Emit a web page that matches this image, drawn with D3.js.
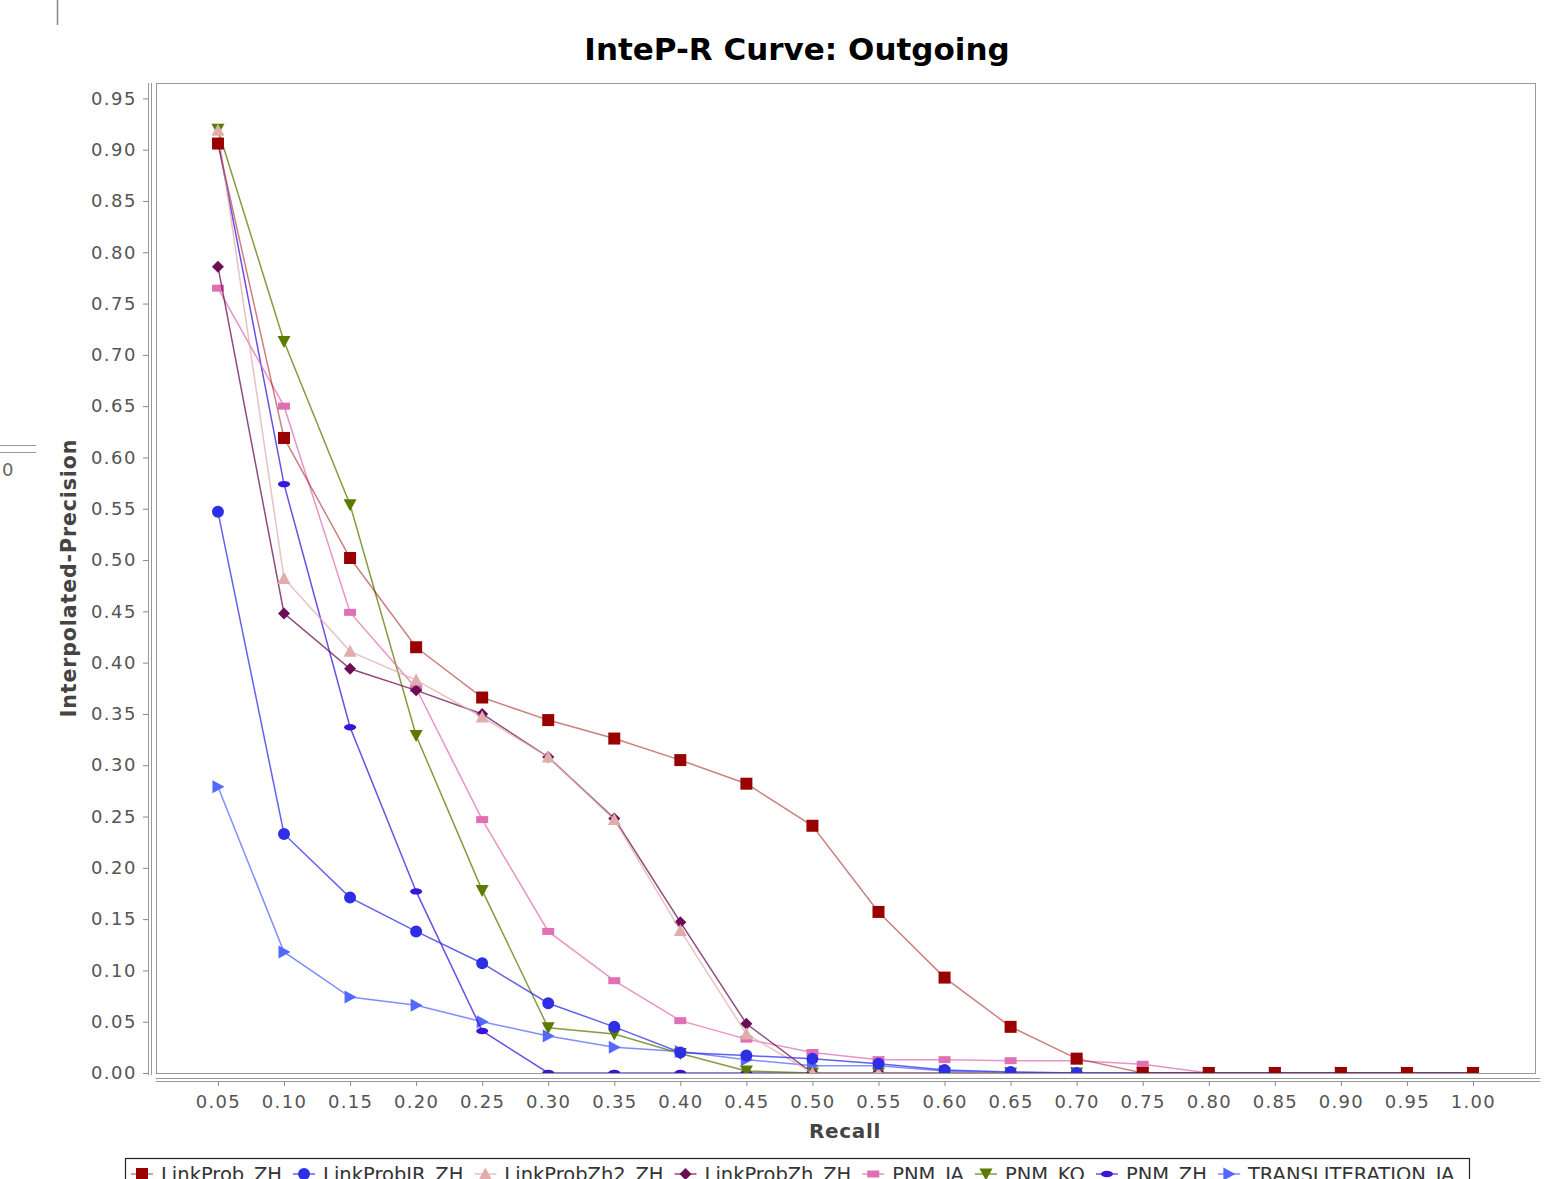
<!DOCTYPE html>
<html><head><meta charset="utf-8">
<script src="https://cdn.jsdelivr.net/npm/d3@7"></script>
<style>
html,body{margin:0;padding:0;background:#fff;}
svg{display:block;}
text{font-family:"DejaVu Sans",sans-serif;}
</style></head>
<body>
<script>
// ---- data ----
const recall = [0.05,0.10,0.15,0.20,0.25,0.30,0.35,0.40,0.45,0.50,0.55,0.60,0.65,0.70,0.75,0.80,0.85,0.90,0.95,1.00];
const yTicks = [0.00,0.05,0.10,0.15,0.20,0.25,0.30,0.35,0.40,0.45,0.50,0.55,0.60,0.65,0.70,0.75,0.80,0.85,0.90,0.95];
const seriesNames = ["LinkProb_ZH","LinkProbIR_ZH","LinkProbZh2_ZH","LinkProbZh_ZH","PNM_JA","PNM_KO","PNM_ZH","TRANSLITERATION_JA"];
const linkProbZH      = [0.906,0.619,0.502,0.415,0.366,0.344,0.326,0.305,0.282,0.241,0.157,0.093,0.045,0.014,0,0,0,0,0,0];
const linkProbIRZH    = [0.547,0.233,0.171,0.138,0.107,0.068,0.045,0.020,0.017,0.014,0.009,0.003,0.001,0,0,0,0,0,0,0];
const linkProbZh2ZH   = [0.919,0.482,0.411,0.383,0.347,0.308,0.247,0.139,0.038,0,0,0,0,0,0,0,0,0,0,0];
const linkProbZhZH    = [0.786,0.448,0.394,0.373,0.350,0.308,0.248,0.147,0.048,0,0,0,0,0,0,0,0,0,0,0];
const pnmJA           = [0.765,0.650,0.449,0.375,0.247,0.138,0.090,0.051,0.033,0.020,0.013,0.013,0.012,0.012,0.0085,0,0,0,0,0];
const pnmKO           = [0.920,0.713,0.554,0.329,0.178,0.044,0.038,0.019,0.002,0,0,0,0,0,0,0,0,0,0,0];
const pnmZH           = [0.908,0.574,0.337,0.177,0.041,0,0,0,0,0,0,0,0,0,0,0,0,0,0,0];
const translitJA      = [0.279,0.118,0.074,0.066,0.050,0.036,0.025,0.021,0.013,0.007,0.007,0.002,0,0,0,0,0,0,0,0];
const seriesValues = [linkProbZH,linkProbIRZH,linkProbZh2ZH,linkProbZhZH,pnmJA,pnmKO,pnmZH,translitJA];
const seriesColors = ["#990000","#2e2ee6","#e0acac","#6a0f55","#e070b4","#5c7a00","#3a14d8","#5468ff"];
const seriesShapes = ["square","circle","triUp","diamond","rect","triDown","ellipse","triRight"];

// ---- layout ----
const W=1560,H=1179;
const L=156,R=1536,T=83,B=1073;
const svg=d3.select("body").append("svg").attr("width",W).attr("height",H);

const x=d3.scaleLinear().domain([0.0031,1.0477]).range([L,R]);
const y=d3.scaleLinear().domain([0,0.965]).range([B,T]);

// stray artifacts at the edges
svg.append("line").attr("x1",57.5).attr("x2",57.5).attr("y1",0).attr("y2",25).attr("stroke","#888").attr("stroke-width",1.5);
svg.append("line").attr("x1",0).attr("x2",36).attr("y1",445.5).attr("y2",445.5).attr("stroke","#999");
svg.append("line").attr("x1",0).attr("x2",36).attr("y1",452.5).attr("y2",452.5).attr("stroke","#999");
svg.append("text").attr("x",2).attr("y",476).attr("font-size",18).attr("fill","#666").text("0");

// title
svg.append("text").attr("x",797).attr("y",60).attr("text-anchor","middle")
  .attr("font-size",31).attr("font-weight","bold").attr("fill","#000").text("InteP-R Curve: Outgoing");

// plot border
svg.append("rect").attr("x",L+0.5).attr("y",T+0.5).attr("width",R-L-1).attr("height",B-T)
  .attr("fill","#fff").attr("stroke","#999");

// y axis
const yAxisG=svg.append("g").attr("transform","translate(148,0)");
yAxisG.call(d3.axisLeft(y).tickValues(yTicks).tickFormat(d3.format(".2f")).tickSize(5).tickPadding(6));
yAxisG.select(".domain").remove();
yAxisG.selectAll(".tick line").attr("stroke","#888");
yAxisG.selectAll(".tick text").attr("font-size",18).attr("fill","#555").attr("font-family","DejaVu Sans")
  .attr("letter-spacing","1.5px");
svg.append("line").attr("x1",148.5).attr("x2",148.5).attr("y1",T).attr("y2",B+2).attr("stroke","#999");
svg.append("line").attr("x1",151.5).attr("x2",151.5).attr("y1",T).attr("y2",B+2).attr("stroke","#999");

// x axis
const xAxisG=svg.append("g").attr("transform","translate(0,1081)");
xAxisG.call(d3.axisBottom(x).tickValues(recall).tickFormat(d3.format(".2f")).tickSize(5).tickPadding(9));
xAxisG.select(".domain").remove();
xAxisG.selectAll(".tick line").attr("stroke","#888");
xAxisG.selectAll(".tick text").attr("font-size",18).attr("fill","#555").attr("font-family","DejaVu Sans")
  .attr("letter-spacing","1.3px");
svg.append("line").attr("x1",L).attr("x2",R+4).attr("y1",1078.5).attr("y2",1078.5).attr("stroke","#999");
svg.append("line").attr("x1",L).attr("x2",R+4).attr("y1",1081.5).attr("y2",1081.5).attr("stroke","#999");

// axis labels
svg.append("text").attr("x",845).attr("y",1138).attr("text-anchor","middle").attr("letter-spacing","0.7px")
  .attr("font-size",20).attr("font-weight","bold").attr("fill","#444").text("Recall");
svg.append("text").attr("transform","translate(76,578) rotate(-90)").attr("text-anchor","middle")
  .attr("letter-spacing","0.9px")
  .attr("font-size",20.5).attr("font-weight","bold").attr("fill","#444").text("Interpolated-Precision");

// markers
function shapePath(s){
  switch(s){
    case "square": return "M-6,-6H6V6H-6Z";
    case "rect": return "M-6,-3.5H6V3.5H-6Z";
    case "circle": return d3.symbol(d3.symbolCircle,113)();
    case "ellipse": return "M-6,0A6,3.2 0 1,0 6,0A6,3.2 0 1,0 -6,0Z";
    case "triUp": return "M0,-6.5L6.5,5.5H-6.5Z";
    case "triDown": return "M0,6.5L6.5,-5.5H-6.5Z";
    case "triRight": return "M6.5,0L-5.5,-6.5V6.5Z";
    case "diamond": return "M0,-6L6,0L0,6L-6,0Z";
  }
}

const defs=svg.append("defs");
defs.append("clipPath").attr("id","clip").append("rect").attr("x",L).attr("y",T-20).attr("width",R-L).attr("height",B-T+20);

const plot=svg.append("g").attr("clip-path","url(#clip)");
const line=d3.line().x((d,i)=>x(recall[i])).y(d=>y(d));
const order=d3.range(seriesNames.length).reverse();
order.forEach(si=>{
  const g=plot.append("g");
  g.append("path").datum(seriesValues[si]).attr("d",line).attr("fill","none")
    .attr("stroke",seriesColors[si]).attr("stroke-width",1.5).attr("stroke-opacity",si===0?0.5:0.75);
  g.selectAll("path.m").data(seriesValues[si]).join("path").attr("class","m")
    .attr("transform",(d,i)=>`translate(${x(recall[i])},${y(d)})`)
    .attr("d",shapePath(seriesShapes[si])).attr("fill",seriesColors[si]);
});

// legend
const lg=svg.append("g");
lg.append("rect").attr("x",125.5).attr("y",1158.5).attr("width",1344).attr("height",40)
  .attr("fill","#fff").attr("stroke","#222").attr("stroke-width",1.2);
let cx=131;
seriesNames.forEach((n,si)=>{
  const g=lg.append("g");
  g.append("line").attr("x1",cx).attr("x2",cx+22).attr("y1",1174).attr("y2",1174)
    .attr("stroke",seriesColors[si]).attr("stroke-width",1.5).attr("stroke-opacity",si===0?0.5:0.75);
  g.append("path").attr("transform",`translate(${cx+11},1174)`).attr("d",shapePath(seriesShapes[si])).attr("fill",seriesColors[si]);
  const t=g.append("text").attr("x",cx+30).attr("y",1181).attr("font-size",19.5)
    .attr("fill","#333").text(n);
  cx=cx+30+t.node().getComputedTextLength()+11;
});
</script>
</body></html>
